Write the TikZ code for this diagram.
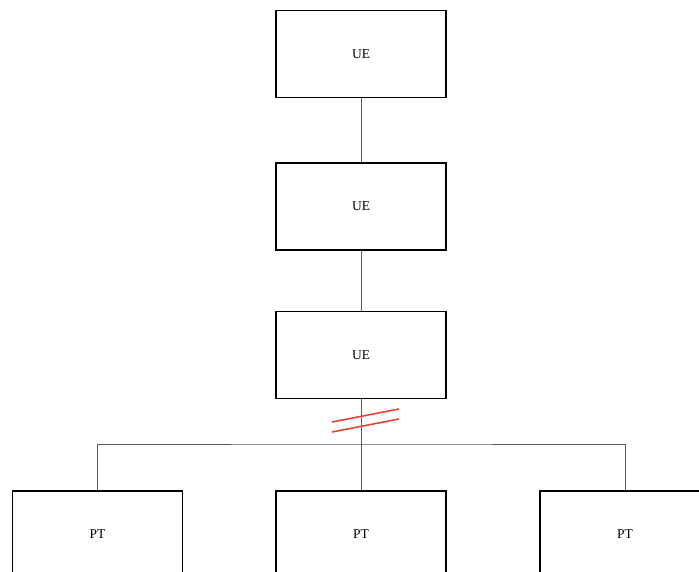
\documentclass[tikz,border=0pt]{standalone}
\usepackage{fontspec}
\setmainfont{Liberation Serif}
\usetikzlibrary{positioning}
\definecolor{wire}{RGB}{95,88,88}
\definecolor{cutred}{RGB}{228,70,50}

\tikzset{
  unit/.style={draw=black, line width=1.4pt, fill=white, minimum width=170pt,
    minimum height=87pt, inner sep=0pt, font=\fontsize{13.5}{16}\selectfont},
  link/.style={draw=wire, line width=1pt},
  cut/.style={draw=cutred, line width=1.6pt}
}

\begin{document}
\begin{tikzpicture}[x=1pt,y=-1pt]
\useasboundingbox (0,0) rectangle (699,572);
\clip (0,0) rectangle (699,572);

% chain of UE
\node[unit] (ue1) at (361,54) {UE};
\node[unit] (ue2) at (361,206.5) {UE};
\node[unit] (ue3) at (361,355) {UE};

% PT row
\node[unit] (pt1) at (97.5,534.5) {PT};
\node[unit] (pt2) at (361,534.5) {PT};
\node[unit] (pt3) at (625,534.5) {PT};

\coordinate (bus) at (361,444);

\draw[link] (ue1.south) -- (ue2.north);
\draw[link] (ue2.south) -- (ue3.north);
\draw[link] (ue3.south) -- (pt2.north);
\draw[link] (pt1.north) |- (bus) -| (pt3.north);

% break marks
\coordinate (brk) at (365.5,420.5);
\draw[cut] (brk) ++(-33.5,1.5) -- ++(67,-13);
\draw[cut] (brk) ++(-33.5,11.5) -- ++(67,-13);
\end{tikzpicture}
\end{document}
